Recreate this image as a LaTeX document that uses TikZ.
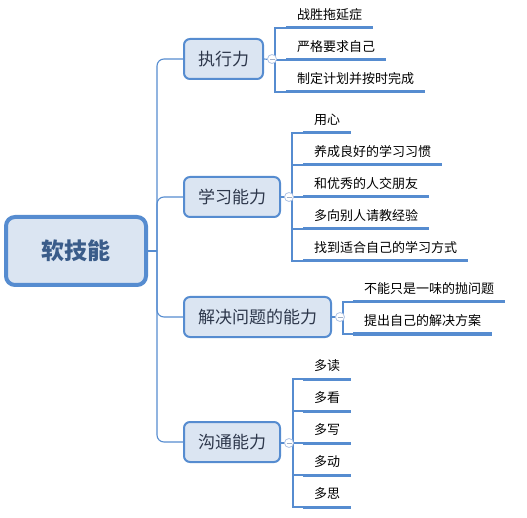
\documentclass[tikz,border=0pt]{standalone}
\usepackage{fontspec}
\setmainfont{Noto Sans CJK SC}
\definecolor{lineblue}{RGB}{86,140,208}
\definecolor{boxfill}{RGB}{219,229,242}
\definecolor{roottext}{RGB}{58,92,138}
\definecolor{maintext}{RGB}{45,55,75}
\definecolor{knob}{RGB}{175,195,228}
\tikzset{
 rootbox/.style={draw=lineblue, line width=4pt, fill=boxfill, rounded corners=9pt, minimum width=140pt, minimum height=68pt, font=\fontsize{23}{26}\selectfont\bfseries, text=roottext},
 mainbox/.style={draw=lineblue, line width=2pt, fill=boxfill, rounded corners=6pt, minimum height=40pt, inner xsep=14pt, font=\fontsize{17}{20}\selectfont, text=maintext, anchor=west},
 leaf/.style={anchor=south west, inner xsep=11pt, inner ysep=5pt, text height=10pt, text depth=3pt, font=\fontsize{13}{15}\selectfont, text=black},
 conn/.style={draw=lineblue, line width=1.1pt},
 ul/.style={draw=lineblue, line width=3pt},
 knobc/.style={circle, draw=knob, fill=white, line width=0.8pt, minimum size=9pt, inner sep=0pt,
   path picture={\draw[knob!70!gray, line width=0.8pt] ([xshift=-2.5pt]path picture bounding box.center) -- ([xshift=2.5pt]path picture bounding box.center);}},
}
\begin{document}
\begin{tikzpicture}[x=1pt,y=-1pt]
\useasboundingbox (0,0) rectangle (527,518);
% root
\node[rootbox] (root) at (76,251) {软技能};
\coordinate (t) at (157,251);
% main nodes
\node[mainbox] (m1) at (183,59) {执行力};
\node[mainbox] (m2) at (183,197) {学习能力};
\node[mainbox] (m3) at (183,317) {解决问题的能力};
\node[mainbox] (m4) at (183,442) {沟通能力};
% trunk
\draw[conn] (root.east) -- (t);
\draw[conn, rounded corners=7pt] (t) |- (m1.west);
\draw[conn, rounded corners=7pt] (t) |- (m2.west);
\draw[conn, rounded corners=7pt] (t) |- (m3.west);
\draw[conn, rounded corners=7pt] (t) |- (m4.west);
% leaves group 1
\node[leaf] (a1) at (286,28) {战胜拖延症};
\node[leaf] (a2) at (286,60) {严格要求自己};
\node[leaf] (a3) at (286,92) {制定计划并按时完成};
% leaves group 2
\node[leaf] (b1) at (303,133) {用心};
\node[leaf] (b2) at (303,165) {养成良好的学习习惯};
\node[leaf] (b3) at (303,197) {和优秀的人交朋友};
\node[leaf] (b4) at (303,229) {多向别人请教经验};
\node[leaf] (b5) at (303,261) {找到适合自己的学习方式};
% leaves group 3
\node[leaf] (c1) at (353,302) {不能只是一味的抛问题};
\node[leaf] (c2) at (353,334) {提出自己的解决方案};
% leaves group 4
\node[leaf] (d1) at (303,379) {多读};
\node[leaf] (d2) at (303,411) {多看};
\node[leaf] (d3) at (303,443) {多写};
\node[leaf] (d4) at (303,475) {多动};
\node[leaf] (d5) at (303,507) {多思};
% spines
\coordinate (s1) at (275,60);
\coordinate (s2) at (292,197);
\coordinate (s3) at (343,317);
\coordinate (s4) at (293,443);
% group 1 connectors
\draw[conn] (m1.east) -- (s1);
\draw[conn] (a1.south west) -- (a1.south west -| s1) -- (a3.south west -| s1) -- (a3.south west);
\draw[conn] (a2.south west) -- (a2.south west -| s1);
% group 2
\draw[conn] (m2.east) -- (s2);
\draw[conn] (b1.south west) -- (b1.south west -| s2) -- (b5.south west -| s2) -- (b5.south west);
\foreach \n in {b2,b3,b4} \draw[conn] (\n.south west) -- (\n.south west -| s2);
% group 3
\draw[conn] (m3.east) -- (s3);
\draw[conn] (c1.south west) -- (c1.south west -| s3) -- (c2.south west -| s3) -- (c2.south west);
% group 4
\draw[conn] (m4.east |- s4) -- (s4);
\draw[conn] (d1.south west) -- (d1.south west -| s4) -- (d5.south west -| s4) -- (d5.south west);
\foreach \n in {d2,d3,d4} \draw[conn] (\n.south west) -- (\n.south west -| s4);
% underlines
\foreach \n in {a1,a2,a3,b1,b2,b3,b4,b5,c1,c2,d1,d2,d3,d4,d5}
  \draw[ul] (\n.south west) -- (\n.south east);
% knobs
\node[knobc] (k1) at ([xshift=8pt]m1.east) {};
\node[knobc] (k2) at ([xshift=8pt]m2.east) {};
\node[knobc] (k3) at ([xshift=8pt]m3.east) {};
\node[knobc] (k4) at ([xshift=8pt]m4.east |- s4) {};
\end{tikzpicture}
\end{document}
